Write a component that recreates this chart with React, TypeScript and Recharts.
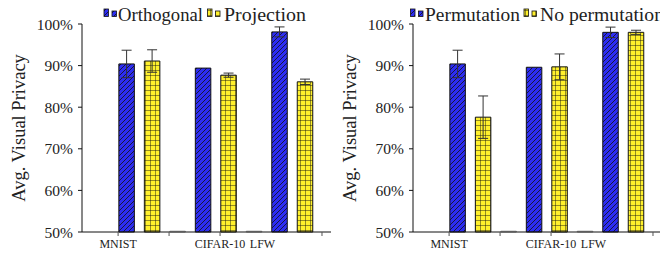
import { BarChart, Bar, XAxis, YAxis, Cell, ErrorBar } from "recharts";

const categories = ["MNIST", "CIFAR-10", "LFW"];

const orthogonal = [90.4, 89.4, 98.1];
const orthogonalErr = [3.3, 0, 1.2];
const projection = [91.1, 87.7, 86.1];
const projectionErr = [2.7, 0.5, 0.65];

const permutation = [90.4, 89.6, 98.0];
const permutationErr = [3.3, 0, 1.25];
const noPermutation = [77.6, 89.7, 98.0];
const noPermutationErr = [5.1, 3.1, 0.5];

// the empty third bar of each group only shows as a grey line on the baseline
const emptyValue = 50.2;

const yTicks = [50, 60, 70, 80, 90, 100];
const xTickPos = [-1 / 3, 5 / 3, 11 / 3, 16 / 3, 23 / 3];
const xTickLabels = ["MNIST", "", "CIFAR-10", "LFW", ""];
const xTickMark = [true, true, true, false, true];

const FONT = "Liberation Serif, Tinos, DejaVu Serif, serif";
const BLUE = "#2d2df2";
const YELLOW = "#fff02c";

type Row = { pos: number; value: number; err: number | null; kind: "a" | "b" | "gap" };

function buildRows(a: number[], aErr: number[], b: number[], bErr: number[]): Row[] {
  const rows: Row[] = [];
  categories.forEach((_, i) => {
    rows.push({ pos: 3 * i, value: a[i], err: aErr[i] || null, kind: "a" });
    rows.push({ pos: 3 * i + 1, value: b[i], err: bErr[i] || null, kind: "b" });
    if (i < categories.length - 1) rows.push({ pos: 3 * i + 2, value: emptyValue, err: null, kind: "gap" });
  });
  return rows;
}

const XTick = (props: any) => {
  const { x, y, index } = props;
  return (
    <g>
      {xTickMark[index] && <line x1={x} x2={x} y1={y - 6} y2={y - 2} stroke="#555" />}
      <text x={x} y={y + 10} textAnchor="middle" style={{ fontFamily: FONT, fontSize: 12 }} fill="#222">
        {xTickLabels[index]}
      </text>
    </g>
  );
};

function Panel({ rows, yWidth, width }: { rows: Row[]; yWidth: number; width: number }) {
  return (
    <BarChart width={width} height={254} data={rows} margin={{ top: 24, right: 3, bottom: 0, left: 0 }}>
      <XAxis
        dataKey="pos"
        type="number"
        domain={[-1.75, 8.02]}
        ticks={xTickPos}
        interval={0}
        height={22}
        tickSize={4}
        tickMargin={2}
        tickLine={false}
        axisLine={{ stroke: "#111" }}
        tick={<XTick />}
      />
      <YAxis
        type="number"
        domain={[50, 100]}
        ticks={yTicks}
        interval={0}
        width={yWidth}
        tickSize={4}
        tickMargin={5}
        tickFormatter={(v: number) => `${v}%`}
        axisLine={{ stroke: "#111" }}
        tickLine={{ stroke: "#111" }}
        tick={{ fill: "#222", fontSize: 15.5, style: { fontFamily: FONT } }}
      />
      <YAxis
        yAxisId="r"
        orientation="right"
        type="number"
        domain={[50, 100]}
        ticks={yTicks}
        mirror
        width={0}
        tick={false}
        tickSize={5}
        axisLine={{ stroke: "#888" }}
        tickLine={{ stroke: "#888" }}
      />
      <Bar dataKey="value" barSize={15.5} isAnimationActive={false} strokeWidth={1}>
        {rows.map((r, i) => (
          <Cell
            key={i}
            fill={r.kind === "a" ? "url(#hatchBlue)" : r.kind === "b" ? "url(#gridYellow)" : "none"}
            stroke={r.kind === "gap" ? "#999" : "#111"}
          />
        ))}
        <ErrorBar dataKey="err" width={5} stroke="#333" strokeWidth={1} direction="y" />
      </Bar>
    </BarChart>
  );
}

const Swatch = ({ x, fill }: { x: number; fill: string }) => (
  <g stroke="#111" strokeWidth={0.8} fill={fill}>
    <rect x={x} y={9} width={4.5} height={7.5} />
    <rect x={x + 8} y={11} width={4.5} height={5.5} />
  </g>
);

export default function App() {
  const left = buildRows(orthogonal, orthogonalErr, projection, projectionErr);
  const right = buildRows(permutation, permutationErr, noPermutation, noPermutationErr);
  const txt = { fontFamily: FONT };

  return (
    <div style={{ position: "absolute", left: 0, top: 0, width: 660, height: 254, overflow: "hidden", background: "#fff", fontFamily: FONT }}>
      <svg width={0} height={0} style={{ position: "absolute" }}>
        <defs>
          <pattern id="hatchBlue" patternUnits="userSpaceOnUse" width={5} height={5}>
            <rect width={5} height={5} fill={BLUE} />
            <path d="M-1,1 L1,-1 M0,5 L5,0 M4,6 L6,4" stroke="#111" strokeWidth={0.8} />
          </pattern>
          <pattern id="gridYellow" patternUnits="userSpaceOnUse" width={5} height={5}>
            <rect width={5} height={5} fill={YELLOW} />
            <path d="M0,0 L5,0 M0,0 L0,5" stroke="#111" strokeWidth={0.9} />
          </pattern>
        </defs>
      </svg>
      <div style={{ position: "absolute", left: 0, top: 0 }}>
        <Panel rows={left} yWidth={82} width={334} />
      </div>
      <div style={{ position: "absolute", left: 330, top: 0 }}>
        <Panel rows={right} yWidth={83} width={335} />
      </div>
      <svg width={660} height={254} style={{ position: "absolute", left: 0, top: 0, pointerEvents: "none" }}>
        <Swatch x={104} fill="url(#hatchBlue)" />
        <text x={118} y={20.5} style={txt} fontSize={18} fill="#222" textLength={85} lengthAdjust="spacingAndGlyphs">Orthogonal</text>
        <Swatch x={207.5} fill="url(#gridYellow)" />
        <text x={224} y={20.5} style={txt} fontSize={18} fill="#222" textLength={82} lengthAdjust="spacingAndGlyphs">Projection</text>

        <Swatch x={410.5} fill="url(#hatchBlue)" />
        <text x={425} y={20.5} style={txt} fontSize={18} fill="#222" textLength={95} lengthAdjust="spacingAndGlyphs">Permutation</text>
        <Swatch x={524} fill="url(#gridYellow)" />
        <text x={540} y={20.5} style={txt} fontSize={18} fill="#222" textLength={124} lengthAdjust="spacingAndGlyphs">No permutation</text>

        <text x={25} y={128} transform="rotate(-90, 25, 128)" textAnchor="middle" style={txt} fontSize={18.5} fill="#222">
          Avg. Visual Privacy
        </text>
        <text x={356} y={128} transform="rotate(-90, 356, 128)" textAnchor="middle" style={txt} fontSize={18.5} fill="#222">
          Avg. Visual Privacy
        </text>
      </svg>
    </div>
  );
}
